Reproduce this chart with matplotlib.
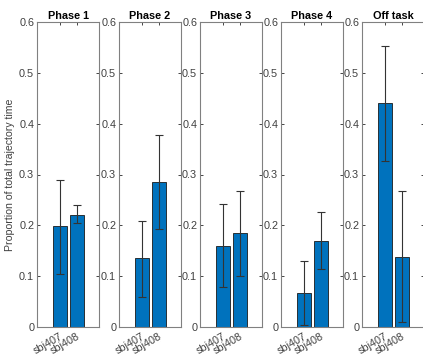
import matplotlib
matplotlib.use("Agg")
import matplotlib.pyplot as plt

# data
phases = ["Phase 1", "Phase 2", "Phase 3", "Phase 4", "Off task"]
subjects = ["sbj407", "sbj408"]
means = [[0.199, 0.220], [0.135, 0.285], [0.160, 0.185], [0.067, 0.170], [0.441, 0.138]]
err_lo = [[0.105, 0.205], [0.060, 0.193], [0.079, 0.101], [0.003, 0.115], [0.327, 0.010]]
err_hi = [[0.290, 0.240], [0.208, 0.377], [0.242, 0.267], [0.130, 0.227], [0.552, 0.267]]

plt.rcParams['font.family'] = ['Liberation Sans', 'DejaVu Sans']
fig = plt.figure(figsize=(4.23, 3.59), dpi=100)

W, H = 423, 359
lefts = [37, 119, 200, 281, 362]
ax_w, top, bottom = 62, 22, 327
axcol = "#262626"
for i, name in enumerate(phases):
    ax = fig.add_axes([lefts[i] / W, 1 - bottom / H, ax_w / W, (bottom - top) / H])
    x = [1, 2]
    lo = [means[i][j] - err_lo[i][j] for j in range(2)]
    hi = [err_hi[i][j] - means[i][j] for j in range(2)]
    ax.bar(x, means[i], width=0.8, color="#0072BD", edgecolor="#1a1a1a", linewidth=0.6, zorder=2)
    ax.errorbar(x, means[i], yerr=[lo, hi], fmt="none", ecolor="#333333",
                elinewidth=0.8, capsize=3, capthick=0.8, zorder=3)
    ax.set_xlim(-0.35, 3.3)
    ax.set_ylim(0, 0.6)
    ax.set_yticks([0, 0.1, 0.2, 0.3, 0.4, 0.5, 0.6])
    ax.set_yticklabels(["0", "0.1", "0.2", "0.3", "0.4", "0.5", "0.6"])
    ax.set_xticks(x)
    ax.set_xticklabels(subjects, rotation=30, ha="right", rotation_mode="anchor")
    ax.tick_params(direction="in", length=2.5, width=0.6, colors=axcol,
                   labelsize=7.8, top=True, right=True, pad=2, labelcolor="#404040")
    ax.tick_params(axis="x", pad=3)
    for s in ax.spines.values():
        s.set_color("#808080")
        s.set_linewidth(0.8)
    ax.set_title(name, fontsize=7.8, fontweight="bold", pad=2.5)
    if i == 0:
        ax.set_ylabel("Proportion of total trajectory time", fontsize=7.6, color="#404040", labelpad=3)

fig.savefig("out.png", dpi=100)
